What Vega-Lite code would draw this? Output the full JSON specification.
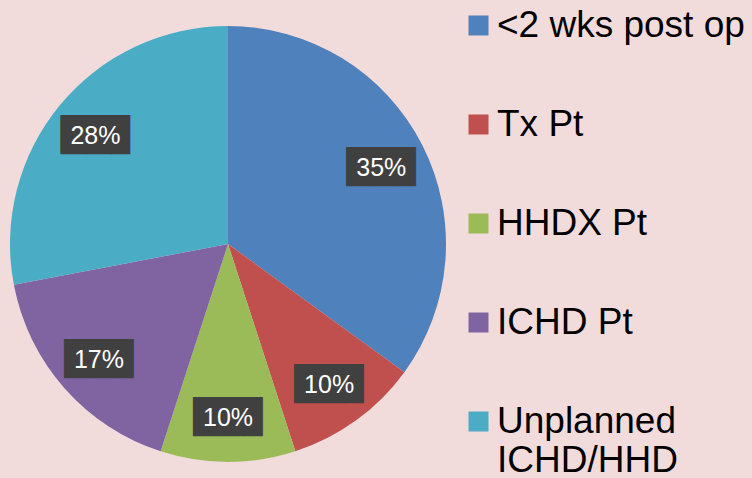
{
  "$schema": "https://vega.github.io/schema/vega-lite/v6.json",
  "width": 456,
  "height": 468,
  "autosize": {"type": "none"},
  "padding": {"left": 0, "top": 10, "right": 296, "bottom": 0},
  "background": "#F2DCDB",
  "config": {"view": {"stroke": null}, "font": "Liberation Sans"},
  "data": {
    "values": [
      {"category": "<2 wks post op", "value": 35, "label": "35%", "order": 1},
      {"category": "Tx Pt", "value": 10, "label": "10%", "order": 2},
      {"category": "HHDX Pt", "value": 10, "label": "10%", "order": 3},
      {"category": "ICHD Pt", "value": 17, "label": "17%", "order": 4},
      {"category": "Unplanned ICHD/HHD", "value": 28, "label": "28%", "order": 5}
    ]
  },
  "encoding": {
    "theta": {"field": "value", "type": "quantitative", "stack": true},
    "order": {"field": "order", "type": "quantitative"}
  },
  "layer": [
    {
      "mark": {"type": "arc", "radius": 218},
      "encoding": {
        "color": {
          "field": "category",
          "type": "nominal",
          "scale": {
            "domain": ["<2 wks post op", "Tx Pt", "HHDX Pt", "ICHD Pt", "Unplanned ICHD/HHD"],
            "range": ["#4F81BD", "#C0504D", "#9BBB59", "#8064A2", "#4BACC6"]
          },
          "legend": {
            "orient": "none",
            "legendX": 460,
            "legendY": -3,
            "title": null,
            "padding": 0,
            "symbolType": "square",
            "symbolSize": 400,
            "symbolStrokeWidth": 0,
            "symbolOpacity": 1,
            "labelFont": "Liberation Sans",
            "labelFontSize": 37,
            "labelColor": "#000000",
            "labelOffset": 0,
            "labelLimit": 400,
            "rowPadding": 61,
            "labelExpr": "datum.label == 'Unplanned ICHD/HHD' ? ['Unplanned', 'ICHD/HHD'] : datum.label"
          }
        }
      }
    },
    {
      "mark": {"type": "text", "radius": 172, "font": "DejaVu Sans", "fontSize": 33, "color": "#404040", "baseline": "middle", "align": "center", "dx": 3, "dy": 2},
      "encoding": {"text": {"value": "██▊"}}
    },
    {
      "mark": {"type": "text", "radius": 172, "font": "Liberation Sans", "fontSize": 25, "color": "#FFFFFF", "baseline": "middle", "align": "center", "dy": 2},
      "encoding": {"text": {"field": "label", "type": "nominal"}}
    }
  ]
}
